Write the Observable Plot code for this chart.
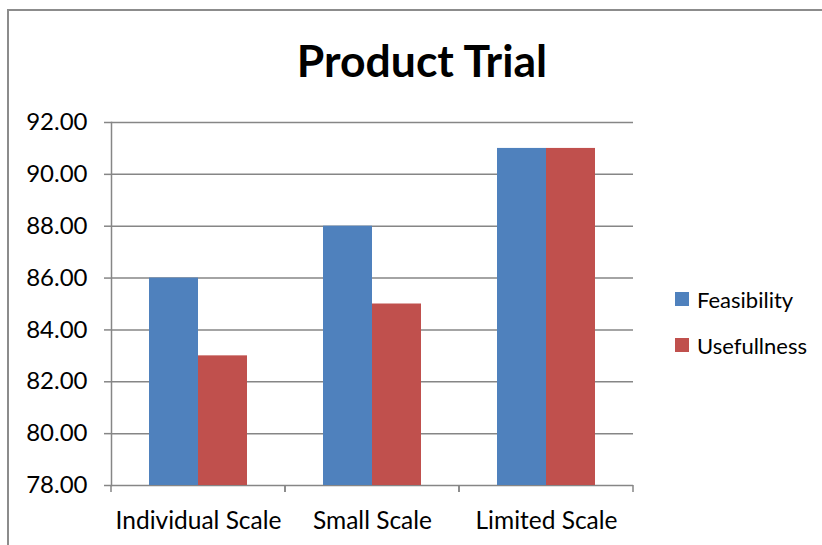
<!DOCTYPE html>
<html><head><meta charset="utf-8">
<script src="https://cdn.jsdelivr.net/npm/d3@7"></script>
<script src="https://cdn.jsdelivr.net/npm/@observablehq/plot@0.6"></script>
<style>
html,body{margin:0;padding:0;background:#fff;font-family:Lato, sans-serif;overflow:hidden;width:822px;height:545px;}
#wrap{position:relative;width:822px;height:545px;overflow:hidden;background:#fff;}
#wrap svg{position:absolute;left:0;top:0;}
#title{position:absolute;left:0;width:844px;top:33px;text-align:center;font-weight:bold;font-size:44.5px;line-height:54px;color:#000;}
#legend{position:absolute;left:675px;top:286px;font-size:22px;color:#000;}
.li{display:flex;align-items:center;height:26px;margin-bottom:20px;}
.sw{width:14px;height:14px;margin-right:8px;}
</style></head>
<body>
<div id="wrap"><div id="title">Product Trial</div><div id="legend"></div></div>
<script>
const categories = ["Individual Scale", "Small Scale", "Limited Scale"];
const series = ["Feasibility", "Usefullness"];
const feasibility = [86, 88, 91];
const usefullness = [83, 85, 91];
const yTicks = [78, 80, 82, 84, 86, 88, 90, 92];
const colors = ["#4F81BD", "#C0504D"];
const gridColor = "#868686";

const rows = [];
categories.forEach((c, i) => {
  rows.push({category: c, series: series[0], value: feasibility[i]});
  rows.push({category: c, series: series[1], value: usefullness[i]});
});

function boundaryTicks(index, scales) {
  const {x, y} = scales;
  const [x0, x1] = x.range();
  const y0 = y(yTicks[0]);
  const g = d3.create("svg:g").attr("stroke", gridColor).attr("stroke-width", 1.5);
  for (const xx of [x0, x1]) {
    g.append("line").attr("x1", xx).attr("x2", xx).attr("y1", y0).attr("y2", y0 + 7);
  }
  return g.node();
}

// outer chart-area border (left and top edges visible; it runs off the right and bottom)
const borderSvg = d3.create("svg").attr("width", 822).attr("height", 545);
borderSvg.append("path").attr("d", "M8,560V10H840").attr("fill", "none").attr("stroke", "#8c8c8c").attr("stroke-width", 2);
document.getElementById("wrap").appendChild(borderSvg.node());

const chart = Plot.plot({
  width: 822,
  height: 545,
  marginLeft: 110,
  marginRight: 188,
  marginTop: 122,
  marginBottom: 60,
  style: {fontFamily: "Lato, sans-serif", color: "#000", background: "transparent"},
  fx: {domain: categories, padding: 0, label: null},
  x: {domain: series, paddingInner: 0, paddingOuter: 0.747, axis: null},
  y: {domain: [yTicks[0], yTicks[yTicks.length - 1]], axis: null},
  color: {domain: series, range: colors},
  marks: [
    Plot.gridY(yTicks, {stroke: gridColor, strokeOpacity: 1, strokeWidth: 1.5}),
    Plot.barY(rows, {fx: "category", x: "series", y1: yTicks[0], y2: "value", fill: "series"}),
    Plot.frame({anchor: "left", facetAnchor: "left", stroke: gridColor, strokeWidth: 1.5}),
    boundaryTicks,
    Plot.axisY(yTicks, {tickFormat: d => d.toFixed(2), tickSize: 7, tickPadding: 17, fontSize: 24, stroke: gridColor, strokeWidth: 1.5, label: null}),
    Plot.axisFx({anchor: "bottom", tickSize: 0, tickPadding: 26, fontSize: 24.5, label: null})
  ]
});
document.getElementById("wrap").appendChild(chart);

const legend = document.getElementById("legend");
series.forEach((s, i) => {
  const item = document.createElement("div");
  item.className = "li";
  const sw = document.createElement("div");
  sw.className = "sw";
  sw.style.background = colors[i];
  const t = document.createElement("span");
  t.textContent = s;
  item.appendChild(sw);
  item.appendChild(t);
  legend.appendChild(item);
});
</script>
</body></html>
